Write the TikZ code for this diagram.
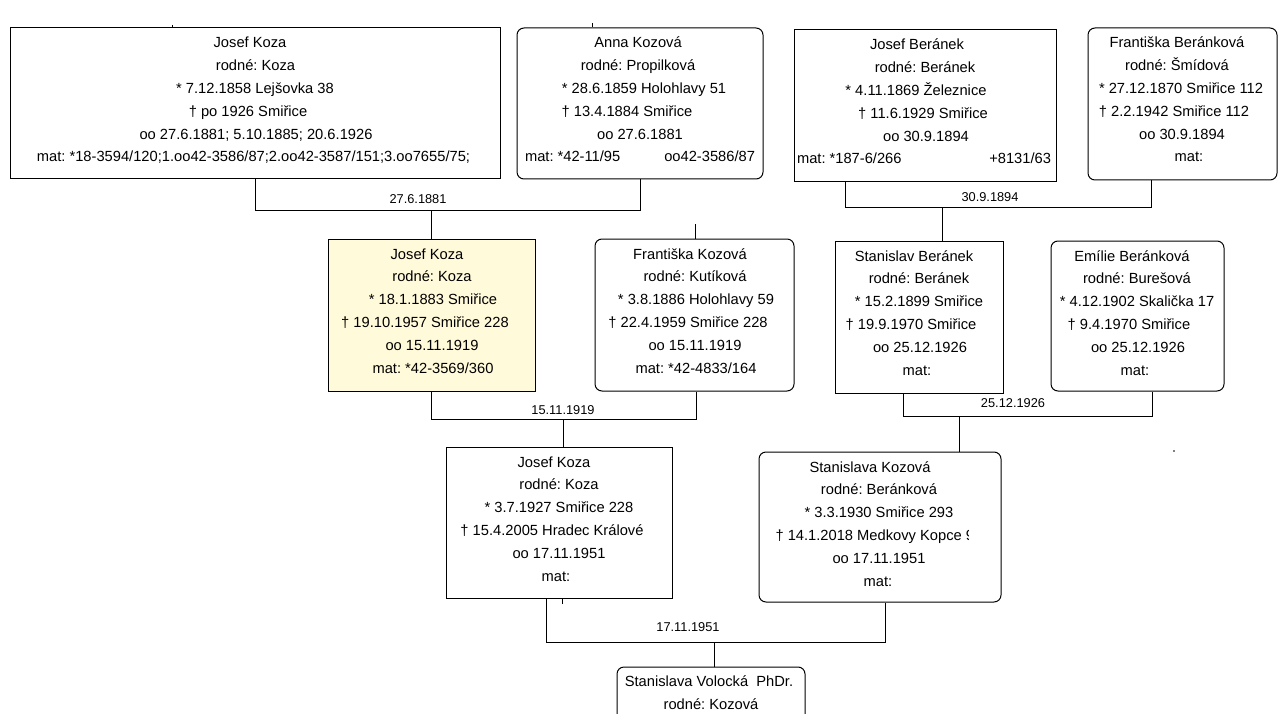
\documentclass[tikz,border=0pt]{standalone}
\usepackage{fontspec}
\setmainfont{Liberation Sans}
\frenchspacing
\newcommand\bodyfont{\fontsize{14.7}{17}\selectfont}
\newcommand\lblfont{\fontsize{12.8}{15}\selectfont}
\definecolor{hiyellow}{RGB}{255,250,218}
\newcommand\pline[5]{\node[txt] (#1) at ({#2},{#3+20+22.8*#4}) {#5};}
\begin{document}
\begin{tikzpicture}[x=1pt,y=-1pt,
  line width=1pt,
  pbox/.style={draw=black,line width=1pt,inner sep=0pt,fill=white},
  sqbox/.style={pbox},
  rbox/.style={pbox,rounded corners=7pt},
  txt/.style={font=\bodyfont,anchor=base,inner sep=0pt},
  lbl/.style={font=\lblfont,anchor=base,inner sep=0pt},
  conn/.style={draw=black,line width=1pt}]
\useasboundingbox[fill=white] (0,0) rectangle (1284,714);

% ---------- boxes ----------
\node[sqbox,minimum width=490,minimum height=151] (b1) at (255,103.5) {};
\node[rbox,minimum width=246,minimum height=151] (b2) at (640,103.5) {};
\node[sqbox,minimum width=262,minimum height=152] (b3) at (925,106) {};
\node[rbox,minimum width=189,minimum height=152] (b4) at (1182.5,104) {};
\node[sqbox,fill=hiyellow,minimum width=207,minimum height=152] (b5) at (431.5,315) {};
\node[rbox,minimum width=199,minimum height=152] (b6) at (694.5,315) {};
\node[sqbox,minimum width=168,minimum height=152] (b7) at (919,317) {};
\node[rbox,minimum width=173,minimum height=150] (b8) at (1137.5,316) {};
\node[sqbox,minimum width=226,minimum height=151] (b9) at (559,522.5) {};
\node[rbox,minimum width=242,minimum height=150] (b10) at (880,527) {};
\node[rbox,minimum width=188,minimum height=70] (b11) at (711,702) {};

% ---------- texts ----------
\pline{t1a}{250}{28}{0}{Josef Koza}
\pline{t1b}{255.5}{28}{1}{rodné: Koza}
\pline{t1c}{255}{28}{2}{* 7.12.1858 Lejšovka 38}
\pline{t1d}{248}{28}{3}{† po 1926 Smiřice}
\pline{t1e}{256}{28}{4}{oo 27.6.1881; 5.10.1885; 20.6.1926}
\pline{t1f}{253.5}{28}{5}{mat: *18-3594/120;1.oo42-3586/87;2.oo42-3587/151;3.oo7655/75;}

\pline{t2a}{638}{28}{0}{Anna Kozová}
\pline{t2b}{638}{28}{1}{rodné: Propilková}
\pline{t2c}{644}{28}{2}{* 28.6.1859 Holohlavy 51}
\pline{t2d}{627}{28}{3}{† 13.4.1884 Smiřice}
\pline{t2e}{640}{28}{4}{oo 27.6.1881}
\pline{t2f}{640}{28}{5}{\makebox[230pt]{mat: *42-11/95\hfill oo42-3586/87}}

\pline{t3a}{917}{30}{0}{Josef Beránek}
\pline{t3b}{925}{30}{1}{rodné: Beránek}
\pline{t3c}{916}{30}{2}{* 4.11.1869 Železnice}
\pline{t3d}{923}{30}{3}{† 11.6.1929 Smiřice}
\pline{t3e}{926}{30}{4}{oo 30.9.1894}
\pline{t3f}{924}{30}{5}{\makebox[254pt]{mat: *187-6/266\hfill +8131/63}}

\pline{t4a}{1177}{28}{0}{Františka Beránková}
\pline{t4b}{1177}{28}{1}{rodné: Šmídová}
\pline{t4c}{1181}{28}{2}{* 27.12.1870 Smiřice 112}
\pline{t4d}{1174}{28}{3}{† 2.2.1942 Smiřice 112}
\pline{t4e}{1182}{28}{4}{oo 30.9.1894}
\pline{t4f}{1189}{28}{5}{mat:}

\pline{t5a}{427}{239}{0}{Josef Koza}
\pline{t5b}{432}{239}{1}{rodné: Koza}
\pline{t5c}{433}{239}{2}{* 18.1.1883 Smiřice}
\pline{t5d}{425}{239}{3}{† 19.10.1957 Smiřice 228}
\pline{t5e}{432}{239}{4}{oo 15.11.1919}
\pline{t5f}{433}{239}{5}{mat: *42-3569/360}

\pline{t6a}{690}{239}{0}{Františka Kozová}
\pline{t6b}{695}{239}{1}{rodné: Kutíková}
\pline{t6c}{696}{239}{2}{* 3.8.1886 Holohlavy 59}
\pline{t6d}{688}{239}{3}{† 22.4.1959 Smiřice 228}
\pline{t6e}{695}{239}{4}{oo 15.11.1919}
\pline{t6f}{696}{239}{5}{mat: *42-4833/164}

\pline{t7a}{914}{241}{0}{Stanislav Beránek}
\pline{t7b}{919}{241}{1}{rodné: Beránek}
\pline{t7c}{919}{241}{2}{* 15.2.1899 Smiřice}
\pline{t7d}{911}{241}{3}{† 19.9.1970 Smiřice}
\pline{t7e}{920}{241}{4}{oo 25.12.1926}
\pline{t7f}{917}{241}{5}{mat:}

\pline{t8a}{1132}{241}{0}{Emílie Beránková}
\pline{t8b}{1137}{241}{1}{rodné: Burešová}
\pline{t8c}{1137}{241}{2}{* 4.12.1902 Skalička 17}
\pline{t8d}{1129}{241}{3}{† 9.4.1970 Smiřice}
\pline{t8e}{1138}{241}{4}{oo 25.12.1926}
\pline{t8f}{1135}{241}{5}{mat:}

\pline{t9a}{554}{447}{0}{Josef Koza}
\pline{t9b}{559}{447}{1}{rodné: Koza}
\pline{t9c}{559}{447}{2}{* 3.7.1927 Smiřice 228}
\pline{t9d}{552}{447}{3}{† 15.4.2005 Hradec Králové}
\pline{t9e}{559}{447}{4}{oo 17.11.1951}
\pline{t9f}{556}{447}{5}{mat:}

\pline{t10a}{870}{452}{0}{Stanislava Kozová}
\pline{t10b}{879}{452}{1}{rodné: Beránková}
\pline{t10c}{879}{452}{2}{* 3.3.1930 Smiřice 293}
\begin{scope}
  \clip (760,520) rectangle (968,545);
  \node[txt,anchor=base west] (t10d) at (775,{452+20+22.8*3}) {† 14.1.2018 Medkovy Kopce 9};
\end{scope}
\pline{t10e}{879}{452}{4}{oo 17.11.1951}
\pline{t10f}{878}{452}{5}{mat:}

\node[txt] (t11a) at (709,686) {Stanislava Volocká\ \ PhDr.};
\node[txt] (t11b) at (711,709) {rodné: Kozová};

% ---------- connectors ----------
\draw[conn] (b1.south) -- ++(0,31) coordinate (h1) -| (b2.south);
\draw[conn] (b5.north) -- (b5.north |- h1);
\node[lbl] (d1) at (418,203.5) {27.6.1881};

\draw[conn] ([xshift=-80pt]b3.south) -- ++(0,25) coordinate (h2) -| ([xshift=-31.5pt]b4.south);
\draw[conn] ([xshift=23pt]b7.north) -- ([xshift=23pt]b7.north |- h2);
\node[lbl] (d2) at (990,201.5) {30.9.1894};

\draw[conn] (b5.south) -- ++(0,28) coordinate (h3) -| ([xshift=1.5pt]b6.south);
\draw[conn] ([xshift=4pt]b9.north) -- ([xshift=4pt]b9.north |- h3);
\node[lbl] (d3) at (563,414.5) {15.11.1919};

\draw[conn] ([xshift=-16pt]b7.south) -- ++(0,23) coordinate (h4) -| ([xshift=14.5pt]b8.south);
\draw[conn] ([xshift=79pt]b10.north) -- ([xshift=79pt]b10.north |- h4);
\node[lbl] (d4) at (1013,407.5) {25.12.1926};

\draw[conn] ([xshift=-13pt]b9.south) -- ++(0,44) coordinate (h5) -| ([xshift=5pt]b10.south);
\draw[conn] ([xshift=3pt]b11.north) -- ([xshift=3pt]b11.north |- h5);
\node[lbl] (d5) at (688,631.5) {17.11.1951};

% ---------- small stubs ----------
\coordinate (s1) at (172,25);
\draw[conn,line width=0.6pt] (s1) -- (s1 |- b1.north);
\coordinate (s2) at (592,23);
\draw[conn,line width=0.6pt] (s2) -- (s2 |- b2.north);
\coordinate (s3) at (695,224);
\draw[conn] (s3) -- (s3 |- b6.north);
\coordinate (s4) at (562,604);
\draw[conn,line width=0.6pt] (s4) -- (s4 |- b9.south);
\fill (1174,451) circle (0.8);
\end{tikzpicture}
\end{document}
